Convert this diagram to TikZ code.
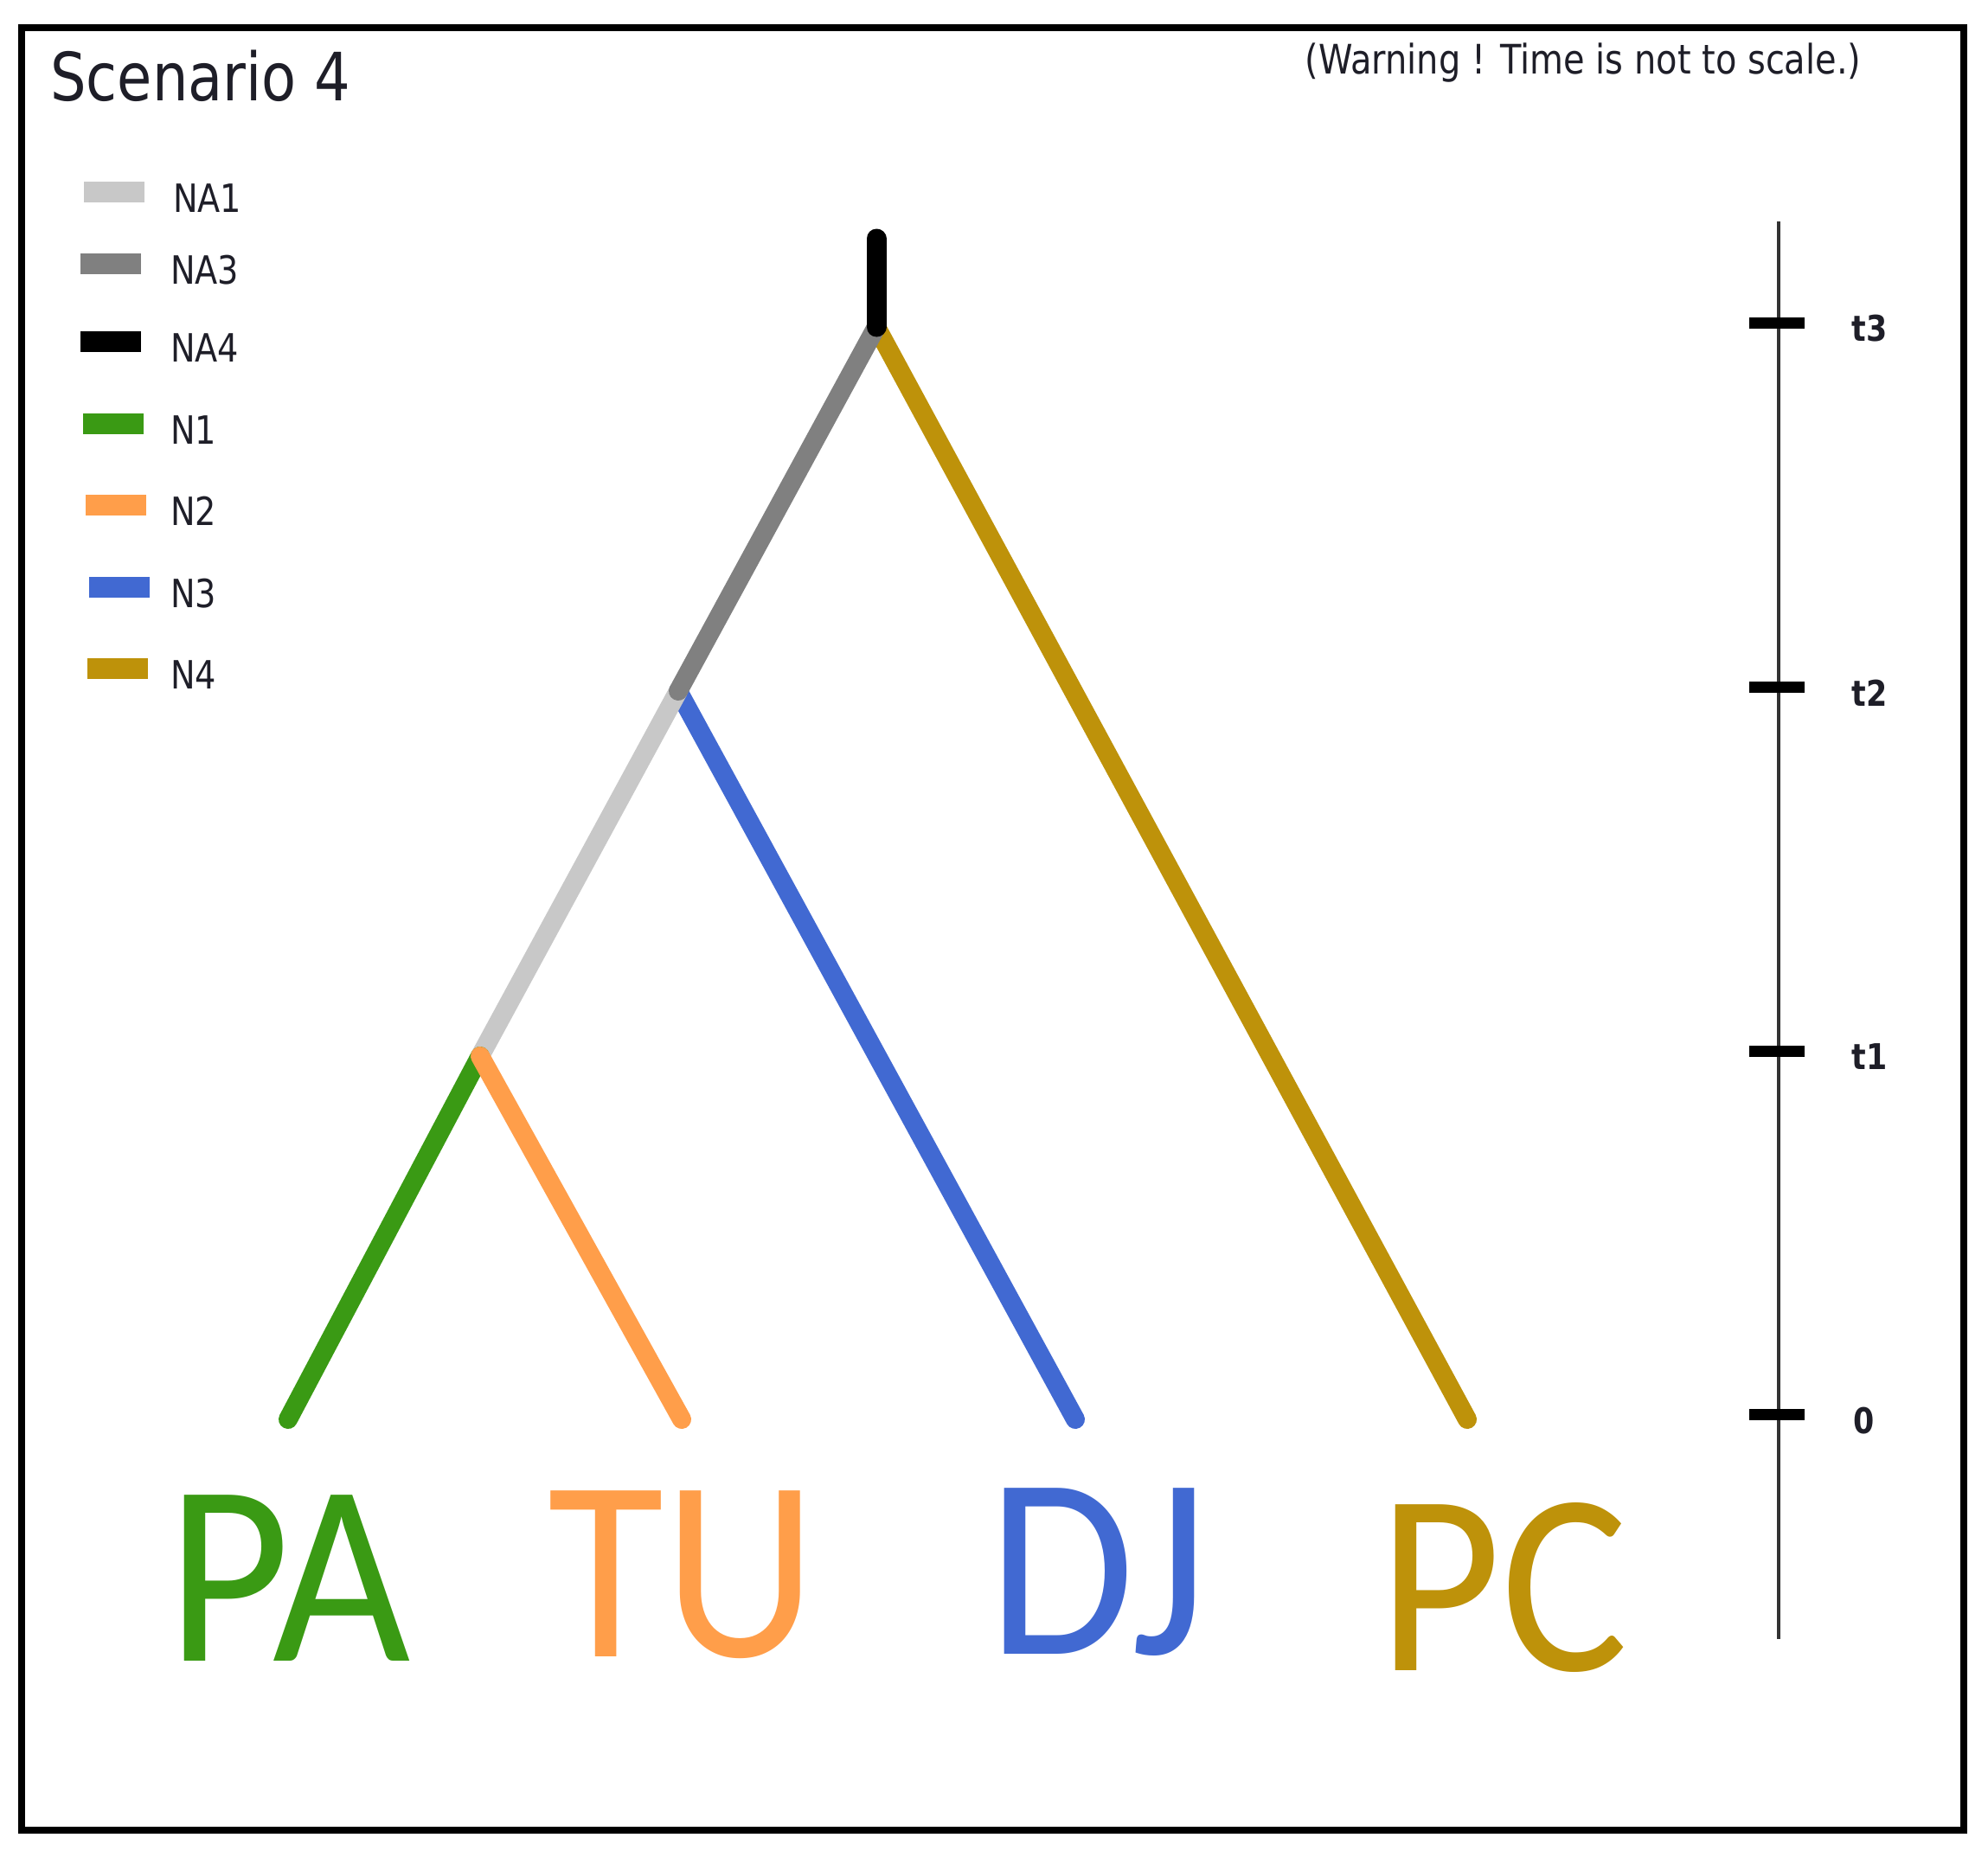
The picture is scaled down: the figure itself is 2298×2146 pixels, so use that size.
\documentclass[tikz,border=0pt]{standalone}
\usepackage{fontspec}
\setmainfont{DejaVu Sans}
\newfontfamily\tah{DejaVu Sans}[FakeStretch=0.85]
\newfontfamily\leaffont{Carlito}
\definecolor{cna1}{RGB}{200,200,200}
\definecolor{cna3}{RGB}{128,128,128}
\definecolor{cna4}{RGB}{0,0,0}
\definecolor{cn1}{RGB}{58,154,20}
\definecolor{cn2}{RGB}{255,158,74}
\definecolor{cn3}{RGB}{65,105,210}
\definecolor{cn4}{RGB}{190,146,10}
\definecolor{txt}{RGB}{30,30,40}
\begin{document}
\begin{tikzpicture}[x=1pt,y=-1pt,
  branch/.style={line width=22pt,line cap=round},
  swatch/.style={draw=none,minimum width=70pt,minimum height=24pt,inner sep=0pt},
  legtext/.style={anchor=west,inner sep=0pt,text=txt,font=\tah\fontsize{45}{50}\selectfont},
  tick/.style={line width=13pt},
  ticklabel/.style={inner sep=0pt,text=txt,font=\tah\bfseries\fontsize{41}{46}\selectfont},
  leaf/.style={anchor=base,inner sep=0pt,font=\leaffont\fontsize{299}{320}\selectfont}]
\useasboundingbox (0,0) rectangle (2298,2146);
\fill[white] (0,0) rectangle (2298,2146);
% frame
\draw[line width=8pt] (25,32) rectangle (2270,2116);
% title and warning
\node[anchor=base west,inner sep=0pt,text=txt,font=\tah\fontsize{77}{90}\selectfont] (title) at (58,117) {Scenario 4};
\node[inner sep=0pt,text=txt,font=\tah\fontsize{47}{54}\selectfont] (warn) at (1830,73) {(Warning ! Time is not to scale.)};
% legend
\node[swatch,fill=cna1] (s1) at (132,222) {};
\node[swatch,fill=cna3] (s3) at (128,305) {};
\node[swatch,fill=cna4] (s4) at (128,395) {};
\node[swatch,fill=cn1] (s5) at (131,490) {};
\node[swatch,fill=cn2] (s6) at (134,584) {};
\node[swatch,fill=cn3] (s7) at (138,679) {};
\node[swatch,fill=cn4] (s8) at (136,773) {};
\node[legtext] (l1) at (200,229) {NA1};
\node[legtext] (l3) at (197,312) {NA3};
\node[legtext] (l4) at (197,402) {NA4};
\node[legtext] (l5) at (197,497) {N1};
\node[legtext] (l6) at (197,591) {N2};
\node[legtext] (l7) at (197,686) {N3};
\node[legtext] (l8) at (197,780) {N4};
% tree
\coordinate (top) at (1013,276);
\coordinate (root) at (1013,378);
\coordinate (n2) at (784,799);
\coordinate (n1) at (555,1221);
\coordinate (pa) at (333,1641);
\coordinate (tu) at (788,1641);
\coordinate (dj) at (1243,1641);
\coordinate (pc) at (1696,1641);
\draw[branch,cn4] (root) -- (pc);
\draw[branch,cn3] (n2) -- (dj);
\draw[branch,cna1] (n2) -- (n1);
\draw[branch,cna3] (root) -- (n2);
\draw[branch,cn1] (n1) -- (pa);
\draw[branch,cn2] (n1) -- (tu);
\draw[line width=23pt,line cap=round,cna4] (top) -- (root);
% leaf labels
\node[leaf,text=cn1] (lpa) at (334,1920) {\scalebox{0.92}[1]{PA}};
\node[leaf,text=cn2] (ltu) at (789,1915) {\scalebox{0.92}[1]{TU}};
\node[leaf,text=cn3] (ldj) at (1269,1912) {\scalebox{0.92}[1]{DJ}};
\node[leaf,text=cn4] (lpc) at (1738,1931) {\scalebox{0.92}[1]{PC}};
% time axis
\coordinate (axtop) at (2056,256);
\coordinate (axbot) at (2056,1895);
\draw[line width=4pt,black!80] (axtop) -- (axbot);
\coordinate (k3) at (2056,373);
\coordinate (k2) at (2056,794);
\coordinate (k1) at (2056,1215);
\coordinate (k0) at (2056,1635);
\foreach \k in {k3,k2,k1,k0}{\draw[tick] ([xshift=-34pt]\k) -- ([xshift=30pt]\k);}
\node[ticklabel] (t3) at (2161,380) {t3};
\node[ticklabel] (t2) at (2161,801) {t2};
\node[ticklabel] (t1) at (2161,1222) {t1};
\node[ticklabel] (t0) at (2155,1643) {0};
\end{tikzpicture}
\end{document}
